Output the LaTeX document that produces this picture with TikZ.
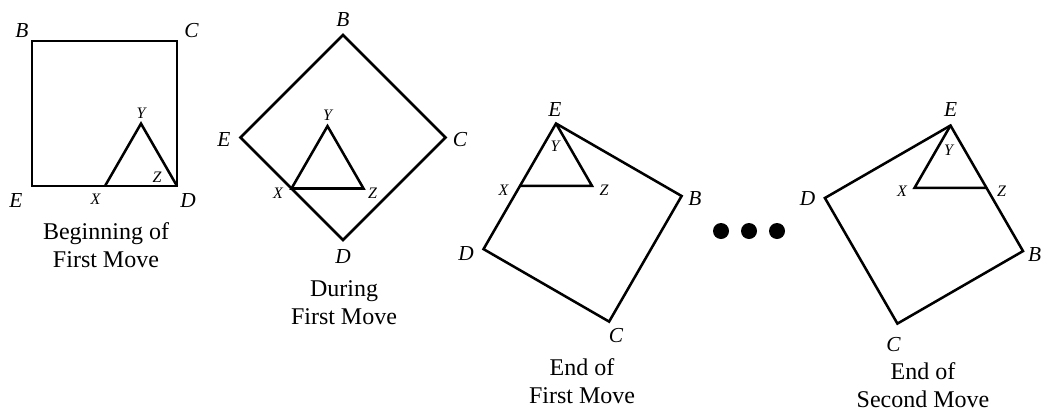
\documentclass[tikz,border=0pt]{standalone}
\usepackage{fontspec}
\setmainfont{Liberation Serif}
\tikzset{
  edge/.style={line width=1.9pt, line join=miter},
  vlabel/.style={inner sep=0pt, font=\fontsize{16}{18}\selectfont\itshape},
  tlabel/.style={inner sep=0pt, font=\fontsize{12}{14}\selectfont\itshape},
  caption/.style={inner sep=0pt, align=center, font=\fontsize{18}{21}\selectfont},
  dot/.style={circle, fill, inner sep=0pt, minimum size=12}
}
\begin{document}
\begin{tikzpicture}[x=0.75pt, y=-0.75pt]
\useasboundingbox (0,0) rectangle (1044,411);

% beginning of first move
\coordinate (b1) at (32,41);
\coordinate (c1) at (177,41);
\coordinate (d1) at (177,186);
\coordinate (e1) at (32,186);
\coordinate (x1) at (105,186);
\coordinate (y1) at (141,123.6);
\draw[edge] (b1) -- (c1) -- (d1) -- (e1) -- cycle;
\draw[edge] (x1) -- (y1) -- (d1);
\node[vlabel] (lb1) at (22,30.5) {B};
\node[vlabel] (lc1) at (191.5,30.5) {C};
\node[vlabel] (ld1) at (188,201) {D};
\node[vlabel] (le1) at (16,201) {E};
\node[tlabel] (lx1) at (95.5,199.5) {X};
\node[tlabel] (ly1) at (141,113) {Y};
\node[tlabel] (lz1) at (157,177) {Z};
\node[caption] (cap1) at (106,245) {Beginning of\\First Move};

% during first move
\coordinate (b2) at (343,35);
\coordinate (c2) at (445.5,137.5);
\coordinate (d2) at (343,240);
\coordinate (e2) at (240.5,137.5);
\coordinate (x2) at (291.5,188.5);
\coordinate (y2) at (327.5,126.1);
\coordinate (z2) at (363.5,188.5);
\draw[edge] (b2) -- (c2) -- (d2) -- (e2) -- cycle;
\draw[edge] (x2) -- (y2) -- (z2) -- cycle;
\node[vlabel] (lb2) at (343,20) {B};
\node[vlabel] (lc2) at (460,139.5) {C};
\node[vlabel] (ld2) at (343,257) {D};
\node[vlabel] (le2) at (224,139.5) {E};
\node[tlabel] (lx2) at (278,193) {X};
\node[tlabel] (ly2) at (327.5,115) {Y};
\node[tlabel] (lz2) at (372.5,193) {Z};
\node[caption] (cap2) at (344,303) {During\\First Move};

% end of first move
\coordinate (e3) at (556,123.5);
\coordinate (b3) at (681.6,196);
\coordinate (c3) at (609.1,321.6);
\coordinate (d3) at (483.5,249.1);
\coordinate (x3) at (520,185.9);
\coordinate (z3) at (592,185.9);
\draw[edge] (e3) -- (b3) -- (c3) -- (d3) -- cycle;
\draw[edge] (x3) -- (z3) -- (e3);
\node[vlabel] (lb3) at (695,198.5) {B};
\node[vlabel] (lc3) at (616,336) {C};
\node[vlabel] (ld3) at (466,253.5) {D};
\node[vlabel] (le3) at (555,110) {E};
\node[tlabel] (lx3) at (503.5,190.5) {X};
\node[tlabel] (ly3) at (555,146) {Y};
\node[tlabel] (lz3) at (604,190.5) {Z};
\node[caption] (cap3) at (582,381.5) {End of\\First Move};

\node[dot] (p1) at (721,231) {};
\node[dot] (p2) at (749,231) {};
\node[dot] (p3) at (777,231) {};

% end of second move
\coordinate (e4) at (950.5,125.5);
\coordinate (d4) at (824.9,198);
\coordinate (c4) at (897.4,323.6);
\coordinate (b4) at (1023,251.1);
\coordinate (x4) at (914.5,187.9);
\coordinate (z4) at (986.5,187.9);
\draw[edge] (e4) -- (d4) -- (c4) -- (b4) -- cycle;
\draw[edge] (e4) -- (x4) -- (z4);
\node[vlabel] (lb4) at (1034.5,255) {B};
\node[vlabel] (lc4) at (893.5,345) {C};
\node[vlabel] (ld4) at (807.5,199) {D};
\node[vlabel] (le4) at (950.5,110) {E};
\node[tlabel] (lx4) at (902,191.5) {X};
\node[tlabel] (ly4) at (948.5,150) {Y};
\node[tlabel] (lz4) at (1001.5,191.5) {Z};
\node[caption] (cap4) at (923,385) {End of\\Second Move};
\end{tikzpicture}
\end{document}
